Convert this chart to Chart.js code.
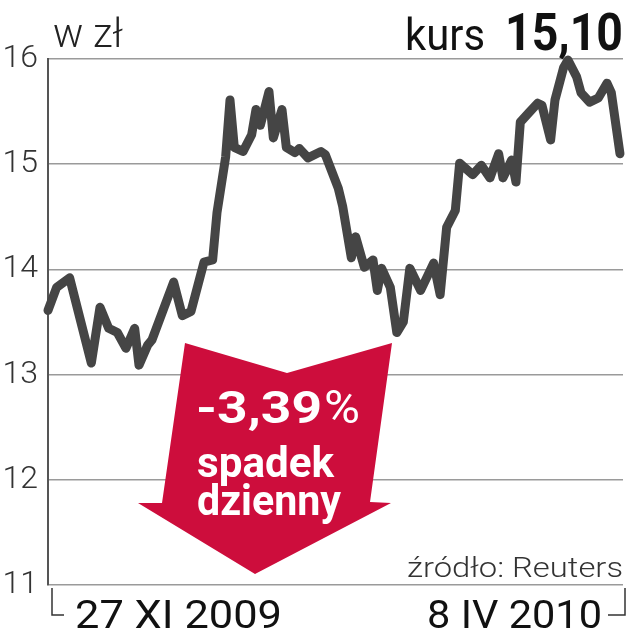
<!DOCTYPE html>
<html>
<head>
<meta charset="utf-8">
<script src="https://cdn.jsdelivr.net/npm/chart.js@4.4.0/dist/chart.umd.min.js"></script>
<style>
  html, body { margin: 0; padding: 0; background: #fff; }
  #wrap { width: 627px; height: 640px; }
</style>
</head>
<body>
<div id="wrap"><canvas id="chart" width="627" height="640"></canvas></div>
<script>
// dni od 27 XI 2009 (kalendarzowe)
const days = [0, 2, 5, 10, 12, 14, 16, 18, 20, 21, 23, 24, 29, 31, 33, 36, 38, 39, 41, 42,
  43, 45, 47, 48, 49, 51, 52, 54, 55, 57, 58, 60, 63, 64, 67, 68, 70, 71, 73, 75,
  76, 77, 79, 80.5, 82, 83.5, 86, 89, 90.5, 92, 94, 95, 98, 100, 102, 104, 105, 107, 108, 109,
  111, 113, 114, 116, 117, 119, 120, 122, 123, 125, 127, 129, 130, 132]
// kurs w zł
const prices = [13.61, 13.83, 13.92, 13.11, 13.64, 13.44, 13.40, 13.25, 13.44, 13.09, 13.28, 13.33, 13.88, 13.56, 13.60, 14.07, 14.09, 14.54, 15.07, 15.61,
  15.16, 15.12, 15.28, 15.52, 15.37, 15.69, 15.25, 15.52, 15.16, 15.11, 15.15, 15.06, 15.12, 15.09, 14.77, 14.60, 14.11, 14.31, 14.02, 14.09,
  13.80, 14.01, 13.83, 13.40, 13.50, 14.01, 13.80, 14.06, 13.76, 14.40, 14.56, 15.01, 14.90, 14.99, 14.87, 15.10, 14.87, 15.04, 14.83, 15.40,
  15.49, 15.58, 15.56, 15.23, 15.61, 15.92, 15.99, 15.83, 15.68, 15.59, 15.63, 15.77, 15.68, 15.10]
const yTicks = [11, 12, 13, 14, 15, 16]
const unitLabel = 'w zł'
const lastPrice = '15,10'
const changeValue = '-3,39'
const changeLines = ['spadek', 'dzienny']
const startLabel = '27 XI 2009'
const endLabel = '8 IV 2010'
const sourceLabel = 'źródło: Reuters'

// draws text squeezed/stretched to an exact width
function fitText(ctx, text, x, y, w, font, color) {
  ctx.save()
  ctx.font = font
  ctx.fillStyle = color
  ctx.textBaseline = 'alphabetic'
  ctx.textAlign = 'left'
  const m = ctx.measureText(text).width
  ctx.translate(x, y)
  ctx.scale(w / m, 1)
  ctx.fillText(text, 0, 0)
  ctx.restore()
}

const decorations = {
  id: 'decorations',
  afterDraw(chart) {
    const ctx = chart.ctx
    // naglowki
    fitText(ctx, unitLabel, 53, 47, 70, '300 40px Roboto', '#222')
    fitText(ctx, 'kurs', 405, 50, 80, '400 45px Roboto', '#111')
    fitText(ctx, lastPrice, 505, 50, 118, '700 51px Roboto', '#111')

    // strzalka
    ctx.save()
    ctx.fillStyle = '#cd0d3c'
    ctx.beginPath()
    ctx.moveTo(185, 343)
    ctx.lineTo(287, 373)
    ctx.lineTo(392, 343)
    ctx.lineTo(370, 502)
    ctx.lineTo(391, 503)
    ctx.lineTo(255, 574)
    ctx.lineTo(138, 503)
    ctx.lineTo(162, 503)
    ctx.closePath()
    ctx.fill()
    ctx.restore()
    fitText(ctx, changeValue, 196, 423, 126, '700 45px Roboto', '#fff')
    fitText(ctx, '%', 324, 423, 36, '400 46px Roboto', '#fff')
    fitText(ctx, changeLines[0], 197, 477, 137, '700 43px Roboto', '#fff')
    fitText(ctx, changeLines[1], 197, 515, 144, '700 43px Roboto', '#fff')

    // zrodlo
    fitText(ctx, sourceLabel, 407, 577, 216, '300 27px Roboto', '#333')

    // daty na dole
    fitText(ctx, startLabel, 75, 628, 207, '400 39px Roboto', '#111')
    fitText(ctx, endLabel, 427, 628, 175, '400 39px Roboto', '#111')
    ctx.save()
    ctx.strokeStyle = '#333'
    ctx.lineWidth = 1.5
    ctx.beginPath()
    ctx.moveTo(52, 588)
    ctx.lineTo(52, 615)
    ctx.lineTo(64, 615)
    ctx.moveTo(608, 615)
    ctx.lineTo(625, 615)
    ctx.lineTo(625, 588)
    ctx.stroke()
    ctx.restore()
  }
}

new Chart(document.getElementById('chart'), {
  type: 'line',
  data: {
    datasets: [{
      data: days.map((d, i) => ({ x: d, y: prices[i] })),
      borderColor: '#454545',
      borderWidth: 9,
      borderJoinStyle: 'round',
      borderCapStyle: 'round',
      pointRadius: 0,
      tension: 0,
      clip: false,
    }],
  },
  options: {
    responsive: false,
    animation: false,
    layout: { padding: { left: 2, right: 4, top: 59, bottom: 55 } },
    plugins: { legend: { display: false }, tooltip: { enabled: false } },
    scales: {
      x: {
        type: 'linear',
        min: 0,
        max: 132.7,
        display: false,
      },
      y: {
        min: 11,
        max: 16,
        afterFit: (scale) => { scale.width = 46 },
        afterBuildTicks: (scale) => { scale.ticks = yTicks.map((v) => ({ value: v })) },
        ticks: {
          padding: 10,
          color: '#333',
          font: { family: 'Roboto', size: 32, weight: '300' },
          callback: (v) => String(v),
        },
        grid: { color: '#9a9a9a', lineWidth: 1.5, drawTicks: false },
        border: { display: true, color: '#555', width: 2 },
      },
    },
  },
  plugins: [decorations],
})
</script>
</body>
</html>
